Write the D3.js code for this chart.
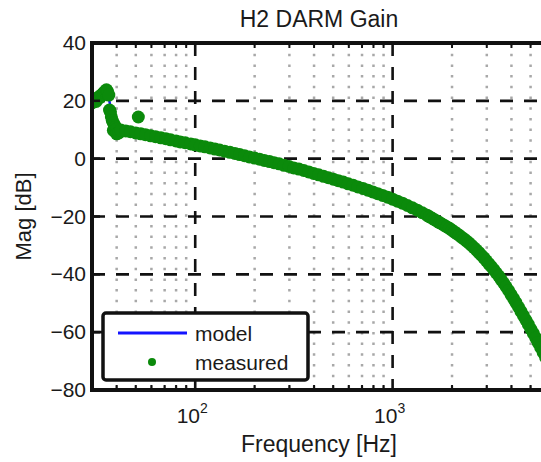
<!DOCTYPE html>
<html>
<head>
<meta charset="utf-8" />
<script src="https://d3js.org/d3.v7.min.js"></script>
<style>
    body { margin: 0; background: #fff; }
    text { font-family: "Liberation Sans", Arial, sans-serif; fill: #1a1a1a; }
</style>
</head>
<body>
<script>

    // measured points (Hz, dB)
    var measuredFreq = [30, 30.5, 31, 31.5, 32, 32.5, 33, 33.5, 34, 34.5, 35, 35.5, 36, 36.5, 36.8, 37.2, 37.6, 38, 38.5, 38.5, 39, 39.5,
        40, 40, 41, 42, 44.5, 47, 50, 51.5, 53, 56, 59.5, 63, 67, 71, 75, 80, 84, 89, 95, 100, 106, 112, 119, 126, 133, 141, 150, 159, 168,
        178, 188, 200, 212, 224, 238, 251, 266, 282, 299, 316, 335, 355, 376, 398, 422, 447, 473, 501, 531, 562, 596, 631, 668, 708,
        750, 794, 841, 891, 944, 1000, 1059, 1122, 1189, 1259, 1334, 1413, 1496, 1540, 1585, 1632, 1679, 1728, 1778, 1830, 1884, 1940,
        1995, 2054, 2113, 2176, 2239, 2305, 2371, 2441, 2512, 2585, 2661, 2740, 2818, 2900, 2985, 3070, 3162, 3255, 3350, 3450, 3548,
        3650, 3758, 3870, 3981, 4100, 4217, 4340, 4467, 4600, 4732, 4870, 5012, 5160, 5309, 5460, 5623, 5790, 5957, 6130, 6310];
    var measuredMag = [19.3, 20.2, 20.6, 19.8, 20.8, 21.4, 21.2, 22.0, 22.4, 22.9, 23.3, 23.8, 23.2, 22.0, 16.8, 16.2, 14.5, 13.2, 12.3, 9.8, 11.5, 10.9,
        10.3, 8.6, 8.9, 9.9, 9.6, 9.3, 8.9, 14.4, 8.6, 8.3, 7.9, 7.6, 7.2, 6.9, 6.5, 6.1, 5.8, 5.5, 5.1, 4.8, 4.4, 4.1, 3.7, 3.3, 3.0, 2.6, 2.2, 1.8, 1.4,
        1.0, 0.6, 0.2, -0.2, -0.6, -1.0, -1.4, -1.8, -2.3, -2.7, -3.2, -3.6, -4.1, -4.6, -5.1, -5.6, -6.1, -6.6, -7.1, -7.6, -8.1, -8.7, -9.2, -9.8, -10.3,
        -10.9, -11.5, -12.1, -12.7, -13.3, -14.0, -14.7, -15.4, -16.2, -17.0, -17.8, -18.7, -19.6, -20.1, -20.6, -21.1, -21.6, -22.1, -22.6, -23.1, -23.6, -24.1,
        -24.7, -25.3, -25.9, -26.5, -27.2, -27.8, -28.5, -29.2, -30.0, -30.8, -31.6, -32.5, -33.4, -34.3, -35.3, -36.3, -37.3, -38.4, -39.5, -40.6, -41.8,
        -43.0, -44.3, -45.6, -47.0, -48.4, -49.8, -51.3, -52.8, -54.3, -55.8, -57.3, -58.9, -60.4, -62.0, -63.6, -65.3, -67.0, -68.7, -70.4, -72.2];

    var modelFreq = [30, 31, 32, 33, 34, 35, 35.5, 36, 36.5, 37, 37.5, 38, 38.5, 39, 40, 42, 45, 50, 60, 80, 100, 150, 200, 300, 500, 700,
        1000, 1500, 2000, 3000, 4000, 5000, 6300];
    var modelMag = [19.5, 20.0, 20.6, 21.4, 22.3, 23.2, 23.6, 22.8, 21.0, 18.8, 16.6, 14.7, 13.2, 12.1, 10.8, 9.9, 9.5, 8.9, 7.9, 6.1, 4.8, 2.2, 0.2, -2.7, -7.1, -10.2,
        -14.0, -19.6, -24.7, -35.4, -47.2, -58.8, -72];

    var yTicks = [-80, -60, -40, -20, 0, 20, 40];
    var xMajor = [100, 1000];
    var xMinor = [40, 50, 60, 70, 80, 90, 200, 300, 400, 500, 600, 700, 800, 900, 2000, 3000, 4000, 5000, 6000, 7000, 8000, 9000];
    var xLabels = ["2", "3"];

    var width = 541, height = 462;
    var pLeft = 92, pTop = 43, pRight = 590, pBottom = 390;

    var svg = d3.select("body").append("svg")
        .attr("width", width)
        .attr("height", height);

    var x = d3.scaleLog().domain([30, 10000]).range([pLeft, pRight]);
    var y = d3.scaleLinear().domain([-80, 40]).range([pBottom, pTop]);

    svg.append("clipPath").attr("id", "plot")
        .append("rect").attr("x", pLeft).attr("y", pTop).attr("width", pRight - pLeft).attr("height", pBottom - pTop);

    var plot = svg.append("g").attr("clip-path", "url(#plot)");

    // minor grid, dotted gray
    plot.selectAll(".minor").data(xMinor).enter().append("line")
        .attr("x1", d => x(d)).attr("x2", d => x(d))
        .attr("y1", pTop).attr("y2", pBottom)
        .attr("stroke", "#a8a8a8").attr("stroke-width", 2.5)
        .attr("stroke-dasharray", "2.5,8.2");

    // major grid, dashed black
    plot.selectAll(".vmajor").data(xMajor).enter().append("line")
        .attr("x1", d => x(d)).attr("x2", d => x(d))
        .attr("y1", pTop).attr("y2", pBottom)
        .attr("stroke", "#111").attr("stroke-width", 2.6)
        .attr("stroke-dasharray", "13,11");
    plot.selectAll(".hmajor").data(yTicks.slice(1, -1)).enter().append("line")
        .attr("x1", pLeft).attr("x2", pRight)
        .attr("y1", d => y(d)).attr("y2", d => y(d))
        .attr("stroke", "#111").attr("stroke-width", 2.6)
        .attr("stroke-dasharray", "13,11");

    // model line
    var line = d3.line().x(d => x(d[0])).y(d => y(d[1]));
    plot.append("path")
        .datum(d3.zip(modelFreq, modelMag))
        .attr("d", line)
        .attr("fill", "none")
        .attr("stroke", "#1414ff")
        .attr("stroke-width", 2.5);

    // measured dots
    plot.selectAll(".dot").data(d3.zip(measuredFreq, measuredMag)).enter().append("circle")
        .attr("cx", d => x(d[0])).attr("cy", d => y(d[1]))
        .attr("r", 6.5)
        .attr("fill", "#0b8a0b");

    // ticks, inward
    svg.selectAll(".ytick").data(yTicks).enter().append("line")
        .attr("x1", pLeft).attr("x2", pLeft + 8)
        .attr("y1", d => y(d)).attr("y2", d => y(d))
        .attr("stroke", "#111").attr("stroke-width", 2.5);
    svg.selectAll(".xmin").data(xMinor).enter().append("line")
        .attr("x1", d => x(d)).attr("x2", d => x(d))
        .attr("y1", pBottom).attr("y2", pBottom - 5)
        .attr("stroke", "#111").attr("stroke-width", 2);
    svg.selectAll(".xmint").data(xMinor).enter().append("line")
        .attr("x1", d => x(d)).attr("x2", d => x(d))
        .attr("y1", pTop).attr("y2", pTop + 5)
        .attr("stroke", "#111").attr("stroke-width", 2);

    // legend
    var lg = svg.append("g");
    lg.append("rect")
        .attr("x", 103).attr("y", 313).attr("width", 205).attr("height", 67).attr("rx", 3)
        .attr("fill", "#fff").attr("stroke", "#111").attr("stroke-width", 3.5);
    lg.append("line")
        .attr("x1", 118).attr("x2", 187).attr("y1", 333).attr("y2", 333)
        .attr("stroke", "#1414ff").attr("stroke-width", 3);
    lg.append("circle").attr("cx", 152).attr("cy", 362).attr("r", 4).attr("fill", "#0b8a0b");
    lg.append("text").attr("x", 195).attr("y", 341).attr("font-size", 21).text("model");
    lg.append("text").attr("x", 195).attr("y", 370).attr("font-size", 21).text("measured");

    // frame
    svg.append("rect")
        .attr("x", pLeft).attr("y", pTop).attr("width", pRight - pLeft).attr("height", pBottom - pTop)
        .attr("fill", "none").attr("stroke", "#111").attr("stroke-width", 4);

    // tick labels
    svg.selectAll(".ylab").data(yTicks).enter().append("text")
        .attr("x", 86).attr("y", d => y(d) + 7)
        .attr("text-anchor", "end")
        .attr("font-size", 21)
        .text(d => d < 0 ? "\u2212" + Math.abs(d) : d);

    var xl = svg.selectAll(".xlab").data(xMajor).enter().append("text")
        .attr("x", d => x(d) - 3).attr("y", 423)
        .attr("text-anchor", "middle")
        .attr("font-size", 21);
    xl.append("tspan").text("10");
    xl.append("tspan").attr("dy", -10).attr("font-size", 14).text((d, i) => xLabels[i]);

    // titles
    svg.append("text").attr("x", 319).attr("y", 27).attr("text-anchor", "middle")
        .attr("font-size", 23).text("H2 DARM Gain");
    svg.append("text").attr("x", 319).attr("y", 452).attr("text-anchor", "middle")
        .attr("font-size", 23).text("Frequency [Hz]");
    svg.append("text")
        .attr("transform", "translate(31," + ((pTop + pBottom) / 2) + ") rotate(-90)")
        .attr("text-anchor", "middle")
        .attr("font-size", 22).text("Mag [dB]");

</script>
</body>
</html>
